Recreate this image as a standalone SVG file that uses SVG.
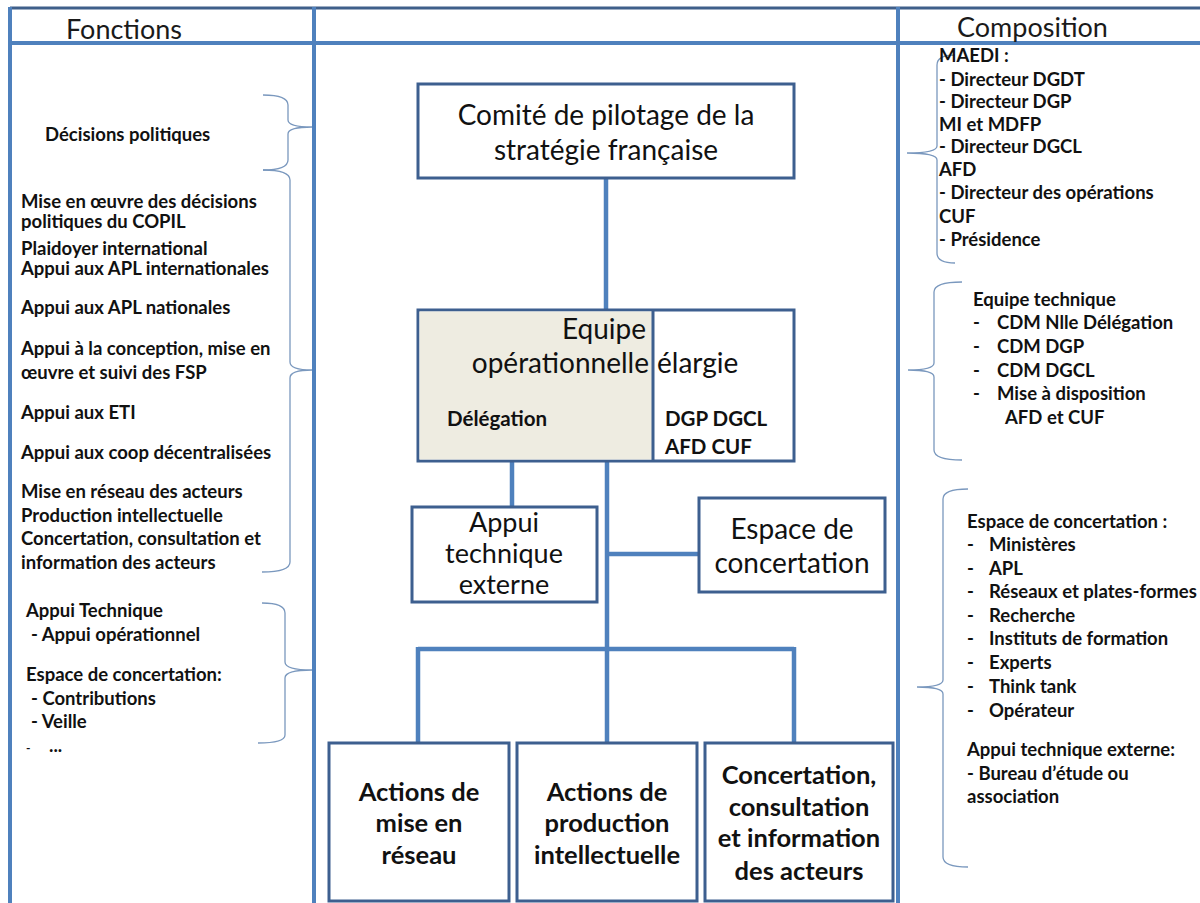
<svg xmlns="http://www.w3.org/2000/svg" width="1200" height="903" viewBox="0 0 1200 903">
<style>
.frame{stroke:#4f81bd;stroke-width:4;fill:none}
.top{stroke:#3f5f8a;stroke-width:3;fill:none}
.box{fill:#ffffff;stroke:#3d5f8f;stroke-width:3}
.conn{stroke:#4f81bd;stroke-width:4.5;fill:none}
.brace{stroke:#7a98be;stroke-width:1.3;fill:none}
.hdr{font-family:Lato,"Liberation Sans",sans-serif;font-size:27px;fill:#1a1a1a}
.big{font-family:Lato,"Liberation Sans",sans-serif;font-size:28px;fill:#111}
.bb{font-family:Lato,"Liberation Sans",sans-serif;font-size:25.5px;font-weight:bold;fill:#111;text-anchor:middle}
.sm{font-family:Lato,"Liberation Sans",sans-serif;font-size:18.5px;font-weight:bold;fill:#111}
.md{font-family:Lato,"Liberation Sans",sans-serif;font-size:20.5px;font-weight:bold;fill:#111}
.mid{text-anchor:middle}
</style>
<rect x="0" y="0" width="1200" height="903" fill="#ffffff"/>
<g id="frame">
<line class="top" x1="10" y1="8" x2="1200" y2="8"/>
<line class="frame" x1="10" y1="43" x2="1200" y2="43"/>
<line class="frame" x1="10" y1="7" x2="10" y2="903"/>
<line class="frame" x1="314" y1="7" x2="314" y2="903"/>
<line class="frame" x1="898" y1="7" x2="898" y2="903"/>
<text class="hdr" x="66" y="39">Fonctions</text>
<text class="hdr" x="957" y="37">Composition</text>
</g>
<g id="connectors">
<line class="conn" x1="606" y1="178" x2="606" y2="310"/>
<line class="conn" x1="512" y1="461" x2="512" y2="507"/>
<line class="conn" x1="607" y1="461" x2="607" y2="743"/>
<line class="conn" x1="607" y1="554" x2="699" y2="554"/>
<line class="conn" x1="418" y1="649" x2="794" y2="649"/>
<line class="conn" x1="418" y1="647" x2="418" y2="743"/>
<line class="conn" x1="794" y1="647" x2="794" y2="743"/>
</g>
<g id="comite">
<rect class="box" x="418" y="84" width="376" height="94"/>
<text class="big mid"><tspan x="606" y="125">Comité de pilotage de la</tspan><tspan x="606" y="160">stratégie française</tspan></text>
</g>
<g id="equipe">
<rect class="box" x="418" y="310" width="376" height="151"/>
<rect x="419.5" y="311.5" width="233" height="148" fill="#eeece1"/>
<line x1="653" y1="310" x2="653" y2="461" stroke="#3d5f8f" stroke-width="3"/>
<text class="big" text-anchor="end"><tspan x="646" y="339">Equipe</tspan><tspan x="649" y="373">opérationnelle</tspan></text>
<text class="big" x="657" y="373">élargie</text>
<text class="md" x="447" y="426">Délégation</text>
<text class="md"><tspan x="665" y="426">DGP DGCL</tspan><tspan x="665" y="454">AFD CUF</tspan></text>
</g>
<g id="appui">
<rect class="box" x="412" y="507" width="185" height="95"/>
<text class="big mid" style="font-size:27px"><tspan x="504" y="532">Appui</tspan><tspan x="504" y="563">technique</tspan><tspan x="504" y="594">externe</tspan></text>
</g>
<g id="espace">
<rect class="box" x="699" y="498" width="186" height="94"/>
<text class="big mid"><tspan x="792" y="539">Espace de</tspan><tspan x="792" y="573">concertation</tspan></text>
</g>
<g id="actions-reseau">
<rect class="box" x="329" y="743" width="180" height="158"/>
<text class="bb"><tspan x="419" y="801">Actions de</tspan><tspan x="419" y="832">mise en</tspan><tspan x="419" y="864">réseau</tspan></text>
</g>
<g id="actions-production">
<rect class="box" x="517" y="743" width="180" height="158"/>
<text class="bb"><tspan x="607" y="801">Actions de</tspan><tspan x="607" y="832">production</tspan><tspan x="607" y="864">intellectuelle</tspan></text>
</g>
<g id="concertation">
<rect class="box" x="705" y="743" width="188" height="158"/>
<text class="bb"><tspan x="799" y="784">Concertation,</tspan><tspan x="799" y="816">consultation</tspan><tspan x="799" y="847">et information</tspan><tspan x="799" y="880">des acteurs</tspan></text>
</g>
<g id="fonctions">
<path class="brace" d="M263,95 Q288,95 288,105 L288,120 Q288,127 312,127 Q288,127 288,134 L288,160 Q288,170 263,170"/>
<path class="brace" d="M263,170 Q290,170 290,180 L290,362 Q290,370 312,370 Q290,370 290,378 L290,562 Q290,572 262,572"/>
<path class="brace" d="M262,603 Q285,603 285,613 L285,662 Q285,670 312,670 Q285,670 285,678 L285,735 Q285,743 258,743"/>
<text class="sm" x="45" y="141">Décisions politiques</text>
<text class="sm"><tspan x="21" y="208">Mise en œuvre des décisions</tspan><tspan x="21" y="228">politiques du COPIL</tspan></text>
<text class="sm"><tspan x="21" y="255">Plaidoyer international</tspan><tspan x="21" y="275">Appui aux APL internationales</tspan><tspan x="21" y="314">Appui aux APL nationales</tspan></text>
<text class="sm"><tspan x="21" y="355">Appui à la conception, mise en</tspan><tspan x="21" y="379">œuvre et suivi des FSP</tspan></text>
<text class="sm" x="21" y="419">Appui aux ETI</text>
<text class="sm" x="21" y="459">Appui aux coop décentralisées</text>
<text class="sm"><tspan x="21" y="498">Mise en réseau des acteurs</tspan><tspan x="21" y="522">Production intellectuelle</tspan><tspan x="21" y="545">Concertation, consultation et</tspan><tspan x="21" y="569">information des acteurs</tspan></text>
<text class="sm"><tspan x="26" y="617">Appui Technique</tspan><tspan x="31" y="641">- Appui opérationnel</tspan></text>
<text class="sm"><tspan x="26" y="681">Espace de concertation:</tspan><tspan x="31" y="705">- Contributions</tspan><tspan x="31" y="728">- Veille</tspan></text>
<text class="sm" x="26" y="752" style="font-size:12px">-</text>
<text class="sm" x="49" y="752">...</text>
</g>
<g id="composition">
<path class="brace" d="M955,55 Q937,55 937,65 L937,146 Q937,153 907,153 Q937,153 937,160 L937,253 Q937,263 955,263"/>
<path class="brace" d="M962,282 Q934,282 934,292 L934,363 Q934,370 908,370 Q934,370 934,377 L934,450 Q934,460 962,460"/>
<path class="brace" d="M968,489 Q943,489 943,499 L943,680 Q943,687 917,687 Q943,687 943,694 L943,857 Q943,867 968,867"/>
<text class="sm"><tspan x="939" y="62">MAEDI :</tspan><tspan x="939" y="86">- Directeur DGDT</tspan><tspan x="939" y="108">- Directeur DGP</tspan><tspan x="939" y="131">MI et MDFP</tspan><tspan x="939" y="153">- Directeur DGCL</tspan><tspan x="939" y="176">AFD</tspan><tspan x="939" y="199">- Directeur des opérations</tspan><tspan x="939" y="223">CUF</tspan><tspan x="939" y="246">- Présidence</tspan></text>
<text class="sm"><tspan x="973" y="306">Equipe technique</tspan><tspan x="973" y="329">-</tspan><tspan x="997" y="329">CDM Nlle Délégation</tspan><tspan x="973" y="353">-</tspan><tspan x="997" y="353">CDM DGP</tspan><tspan x="973" y="377">-</tspan><tspan x="997" y="377">CDM DGCL</tspan><tspan x="973" y="400">-</tspan><tspan x="997" y="400">Mise à disposition</tspan><tspan x="1005" y="424">AFD et CUF</tspan></text>
<text class="sm"><tspan x="967" y="528">Espace de concertation :</tspan><tspan x="967" y="551">-</tspan><tspan x="989" y="551">Ministères</tspan><tspan x="967" y="575">-</tspan><tspan x="989" y="575">APL</tspan><tspan x="967" y="598">-</tspan><tspan x="989" y="598">Réseaux et plates-formes</tspan><tspan x="967" y="622">-</tspan><tspan x="989" y="622">Recherche</tspan><tspan x="967" y="645">-</tspan><tspan x="989" y="645">Instituts de formation</tspan><tspan x="967" y="669">-</tspan><tspan x="989" y="669">Experts</tspan><tspan x="967" y="693">-</tspan><tspan x="989" y="693">Think tank</tspan><tspan x="967" y="717">-</tspan><tspan x="989" y="717">Opérateur</tspan></text>
<text class="sm"><tspan x="967" y="756">Appui technique externe:</tspan><tspan x="967" y="780">- Bureau d’étude ou</tspan><tspan x="967" y="803">association</tspan></text>
</g>
</svg>
